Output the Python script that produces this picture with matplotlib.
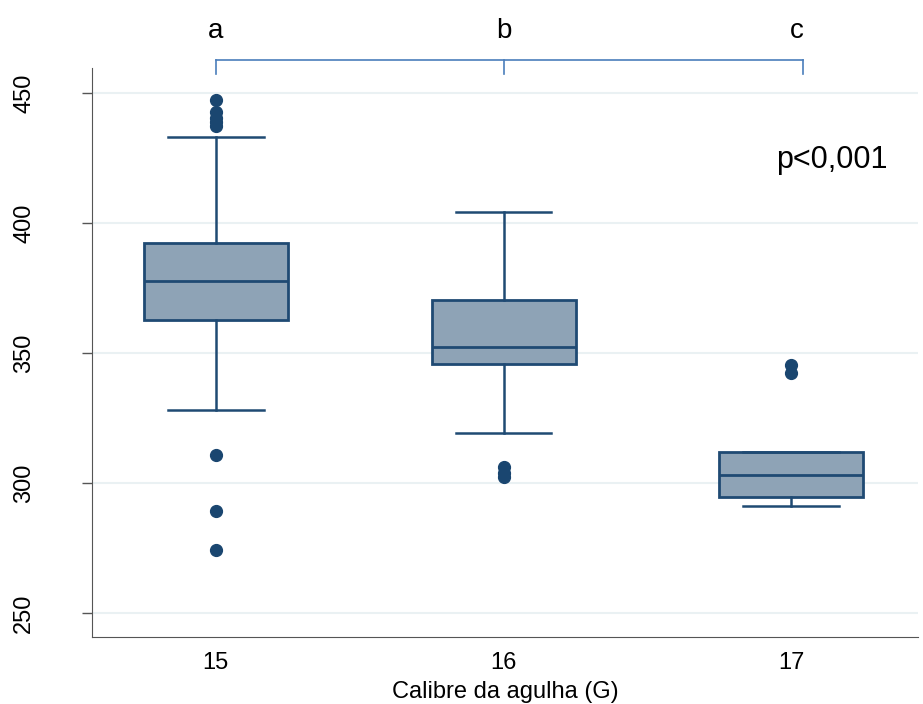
import matplotlib
matplotlib.use("Agg")
import matplotlib.pyplot as plt

plt.rcParams['font.family'] = ['Liberation Sans', 'DejaVu Sans']

categories = ["15", "16", "17"]
positions = [15, 16, 17]
q1 = [362.7, 345.8, 294.5]
med = [377.8, 352.4, 302.9]
q3 = [392.3, 370.4, 311.8]
whislo = [328.1, 319.1, 291.3]
whishi = [433.1, 404.2, 311.8]
fliers = [
    [447.3, 442.5, 440.5, 438.7, 437.3, 310.8, 289.2, 274.2],
    [306.3, 304.0, 302.4],
    [345.4, 342.3],
]
letters = ["a", "b", "c"]
p_text = "p<0,001"
xlabel = "Calibre da agulha (G)"
yticks = [250, 300, 350, 400, 450]

dark = "#1f4a73"
fill = "#8ea3b6"

fig = plt.figure(figsize=(9.23, 7.04), dpi=100)
ax = fig.add_axes([0.0997, 0.0952, 0.8949, 0.8082])

stats = []
for i in range(3):
    stats.append(dict(q1=q1[i], med=med[i], q3=q3[i], whislo=whislo[i],
                      whishi=whishi[i], fliers=fliers[i], label=categories[i]))

ax.bxp(stats, positions=positions, widths=0.5, patch_artist=True,
       showfliers=True,
       boxprops=dict(facecolor=fill, edgecolor=dark, linewidth=2),
       medianprops=dict(color=dark, linewidth=2),
       whiskerprops=dict(color=dark, linewidth=1.8),
       capprops=dict(color=dark, linewidth=1.8),
       capwidths=0.333,
       flierprops=dict(marker='o', markerfacecolor="#1a4670",
                       markeredgecolor="#1a4670", markersize=8.5))

ax.set_xlim(14.57, 17.44)
ax.set_ylim(240.8, 459.6)
ax.set_yticks(yticks)
ax.set_yticklabels([str(v) for v in yticks], rotation=90, va='center',
                   fontsize=17)
ax.set_xticks(positions)
ax.set_xticklabels(categories, fontsize=17)
ax.tick_params(axis='x', length=0, pad=11)
ax.tick_params(axis='y', length=7, width=1, color="#555555", pad=34)
ax.yaxis.grid(True, color="#eaf1f3", linewidth=1.5)
ax.set_axisbelow(True)
for s in ['top', 'right']:
    ax.spines[s].set_visible(False)
ax.spines['left'].set_color("#555555")
ax.spines['bottom'].set_color("#555555")
ax.set_xlabel(xlabel, fontsize=17, labelpad=5)

# bracket
bc = "#4a7ebb"
ax.plot([15, 17.04], [462.7, 462.7], color=bc, lw=1.2, clip_on=False)
for xb in [15, 16, 17.04]:
    ax.plot([xb, xb], [462.7, 457.2], color=bc, lw=1.2, clip_on=False)
for xl, t in zip([15, 16, 17.02], letters):
    ax.text(xl, 474.0, t, ha='center', va='center', fontsize=20)

ax.text(17.14, 424.2, p_text, ha='center', va='center', fontsize=22)

fig.savefig("out.png", dpi=100)
